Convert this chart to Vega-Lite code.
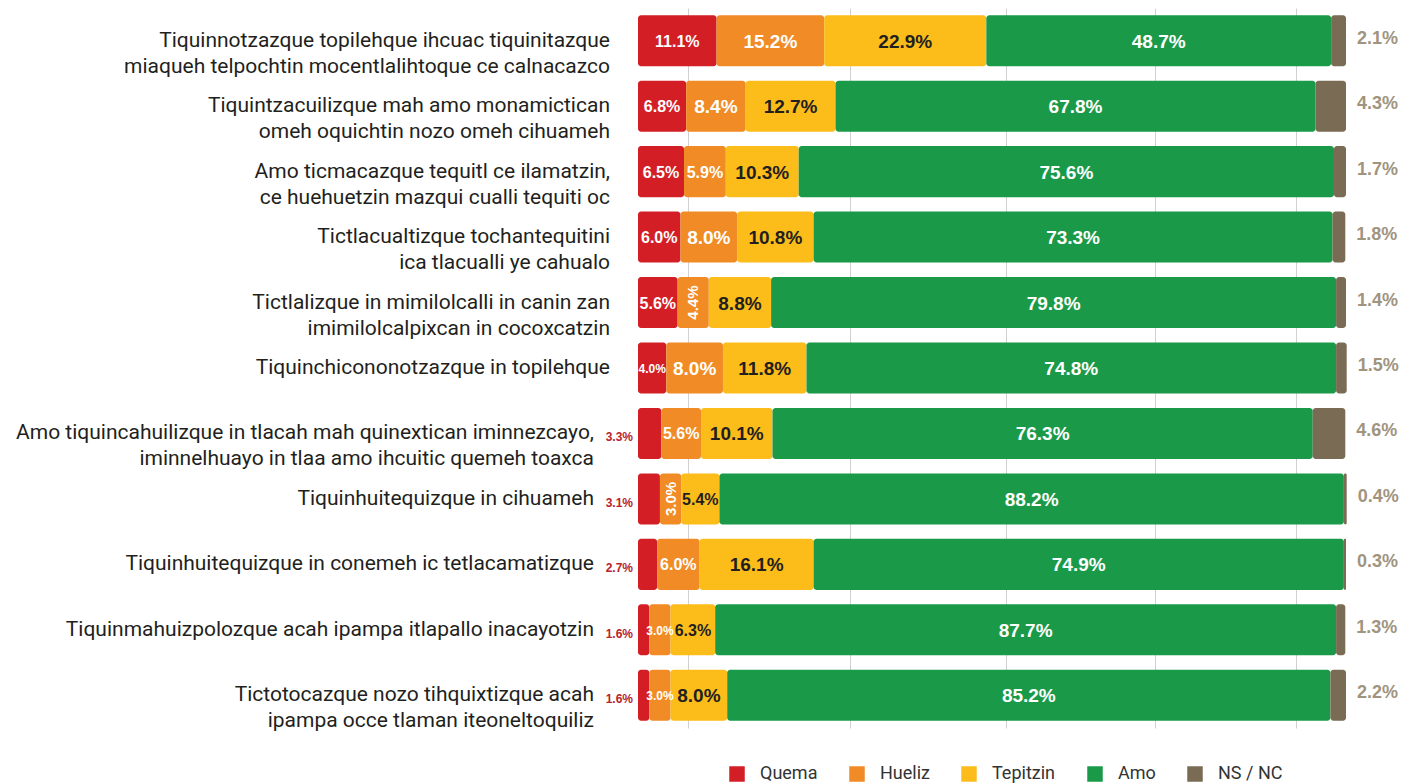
{
  "$schema": "https://vega.github.io/schema/vega-lite/v6.json",
  "autosize": {"type": "none"},
  "padding": {"left": 638, "top": 8, "right": 57, "bottom": 55},
  "width": 708,
  "height": 720,
  "background": "white",
  "config": {"view": {"stroke": null}},
  "datasets": {
    "rows": [
      {"q": "Tiquinnotzazque topilehque ihcuac tiquinitazque\nmiaqueh telpochtin mocentlalihtoque ce calnacazco", "g": 1, "Quema": 11.1, "Hueliz": 15.2, "Tepitzin": 22.9, "Amo": 48.7, "NS / NC": 2.1},
      {"q": "Tiquintzacuilizque mah amo monamictican\nomeh oquichtin nozo omeh cihuameh", "g": 1, "Quema": 6.8, "Hueliz": 8.4, "Tepitzin": 12.7, "Amo": 67.8, "NS / NC": 4.3},
      {"q": "Amo ticmacazque tequitl ce ilamatzin,\nce huehuetzin mazqui cualli tequiti oc", "g": 1, "Quema": 6.5, "Hueliz": 5.9, "Tepitzin": 10.3, "Amo": 75.6, "NS / NC": 1.7},
      {"q": "Tictlacualtizque tochantequitini\nica tlacualli ye cahualo", "g": 1, "Quema": 6.0, "Hueliz": 8.0, "Tepitzin": 10.8, "Amo": 73.3, "NS / NC": 1.8},
      {"q": "Tictlalizque in mimilolcalli in canin zan\nimimilolcalpixcan in cocoxcatzin", "g": 1, "Quema": 5.6, "Hueliz": 4.4, "Tepitzin": 8.8, "Amo": 79.8, "NS / NC": 1.4},
      {"q": "Tiquinchicononotzazque in topilehque", "g": 1, "Quema": 4.0, "Hueliz": 8.0, "Tepitzin": 11.8, "Amo": 74.8, "NS / NC": 1.5},
      {"q": "Amo tiquincahuilizque in tlacah mah quinextican iminnezcayo,\niminnelhuayo in tlaa amo ihcuitic quemeh toaxca", "g": 2, "Quema": 3.3, "Hueliz": 5.6, "Tepitzin": 10.1, "Amo": 76.3, "NS / NC": 4.6},
      {"q": "Tiquinhuitequizque in cihuameh", "g": 2, "Quema": 3.1, "Hueliz": 3.0, "Tepitzin": 5.4, "Amo": 88.2, "NS / NC": 0.4},
      {"q": "Tiquinhuitequizque in conemeh ic tetlacamatizque", "g": 2, "Quema": 2.7, "Hueliz": 6.0, "Tepitzin": 16.1, "Amo": 74.9, "NS / NC": 0.3},
      {"q": "Tiquinmahuizpolozque acah ipampa itlapallo inacayotzin", "g": 2, "Quema": 1.6, "Hueliz": 3.0, "Tepitzin": 6.3, "Amo": 87.7, "NS / NC": 1.3},
      {"q": "Tictotocazque nozo tihquixtizque acah\nipampa occe tlaman iteoneltoquiliz", "g": 2, "Quema": 1.6, "Hueliz": 3.0, "Tepitzin": 8.0, "Amo": 85.2, "NS / NC": 2.2}
    ]
  },
  "data": {"name": "rows"},
  "transform": [
    {"window": [{"op": "row_number", "as": "rn"}]},
    {"fold": ["Quema", "Hueliz", "Tepitzin", "Amo", "NS / NC"], "as": ["cat", "v"]},
    {"calculate": "indexof(['Quema','Hueliz','Tepitzin','Amo','NS / NC'], datum.cat)", "as": "ord"},
    {"stack": "v", "groupby": ["q"], "sort": [{"field": "ord", "order": "ascending"}], "as": ["x0", "x1"]},
    {"calculate": "(datum.x0 + datum.x1) / 2", "as": "mid"},
    {"calculate": "format(datum.v, '.1f') + '%'", "as": "lab"}
  ],
  "encoding": {
    "y": {"field": "q", "type": "nominal", "sort": null, "axis": null,
          "scale": {"paddingInner": 0.22, "paddingOuter": 0.11}}
  },
  "layer": [
    {
      "mark": {"type": "bar", "cornerRadius": 3},
      "encoding": {
        "x": {"field": "x0", "type": "quantitative", "scale": {"domain": [0, 100], "nice": false},
              "axis": {"values": [7, 30, 52, 73, 93], "grid": true, "gridColor": "#d0d0d0", "domain": false, "ticks": false, "labels": false, "title": null}},
        "x2": {"field": "x1"},
        "color": {"field": "cat", "type": "nominal",
                  "scale": {"domain": ["Quema", "Hueliz", "Tepitzin", "Amo", "NS / NC"],
                            "range": ["#d41e26", "#f18b25", "#fcbd1b", "#1a9a48", "#7a6b55"]},
                  "legend": {"orient": "none", "legendX": 90, "legendY": 757, "direction": "horizontal", "columns": 5,
                             "title": null, "symbolType": "square", "symbolSize": 240, "symbolStrokeWidth": 0,
                             "labelFont": "Roboto", "labelFontSize": 18, "labelColor": "#333333",
                             "columnPadding": 30, "labelOffset": 14}}
      }
    },
    {
      "transform": [
        {"filter": "datum.cat != 'NS / NC' && !(datum.cat == 'Quema' && datum.g == 2) && !(datum.cat == 'Hueliz' && (datum.rn == 5 || datum.rn == 8))"}
      ],
      "mark": {"type": "text", "font": "Liberation Sans", "fontWeight": "bold", "baseline": "middle", "align": "center", "dy": 1},
      "encoding": {
        "x": {"field": "mid", "type": "quantitative"},
        "text": {"field": "lab"},
        "size": {"condition": [{"test": "datum.v < 4.5", "value": 12}, {"test": "datum.cat == 'Quema' || datum.v < 7", "value": 16}], "value": 19},
        "color": {"condition": {"test": "datum.cat == 'Tepitzin'", "value": "#231f20"}, "value": "white"}
      }
    },
    {
      "transform": [{"filter": "datum.cat == 'Hueliz' && (datum.rn == 5 || datum.rn == 8)"}],
      "mark": {"type": "text", "font": "Liberation Sans", "fontWeight": "bold", "baseline": "middle", "align": "center", "angle": 270, "fontSize": 15, "color": "white"},
      "encoding": {
        "x": {"field": "mid", "type": "quantitative"},
        "text": {"field": "lab"}
      }
    },
    {
      "transform": [{"filter": "datum.cat == 'Quema' && datum.g == 2"}],
      "mark": {"type": "text", "font": "Liberation Sans", "fontWeight": "bold", "baseline": "middle", "align": "right", "dx": -5, "dy": 4, "fontSize": 12, "color": "#b8232c"},
      "encoding": {
        "x": {"field": "x0", "type": "quantitative"},
        "text": {"field": "lab"}
      }
    },
    {
      "transform": [{"filter": "datum.cat == 'NS / NC'"}],
      "mark": {"type": "text", "font": "Liberation Sans", "fontWeight": "bold", "baseline": "middle", "align": "left", "dx": 11, "dy": -2, "fontSize": 18, "color": "#a0947f"},
      "encoding": {
        "x": {"field": "x1", "type": "quantitative"},
        "text": {"field": "lab"}
      }
    },
    {
      "transform": [{"filter": "datum.cat == 'Quema' && datum.g == 1"}],
      "mark": {"type": "text", "font": "Roboto", "fontSize": 21, "baseline": "middle", "align": "right", "dx": -28, "lineBreak": "\n", "lineHeight": 26, "color": "#231f20"},
      "encoding": {
        "x": {"datum": 0, "type": "quantitative"},
        "text": {"field": "q"}
      }
    },
    {
      "transform": [{"filter": "datum.cat == 'Quema' && datum.g == 2"}],
      "mark": {"type": "text", "font": "Roboto", "fontSize": 21, "baseline": "middle", "align": "right", "dx": -44, "lineBreak": "\n", "lineHeight": 26, "color": "#231f20"},
      "encoding": {
        "x": {"datum": 0, "type": "quantitative"},
        "text": {"field": "q"}
      }
    }
  ]
}
